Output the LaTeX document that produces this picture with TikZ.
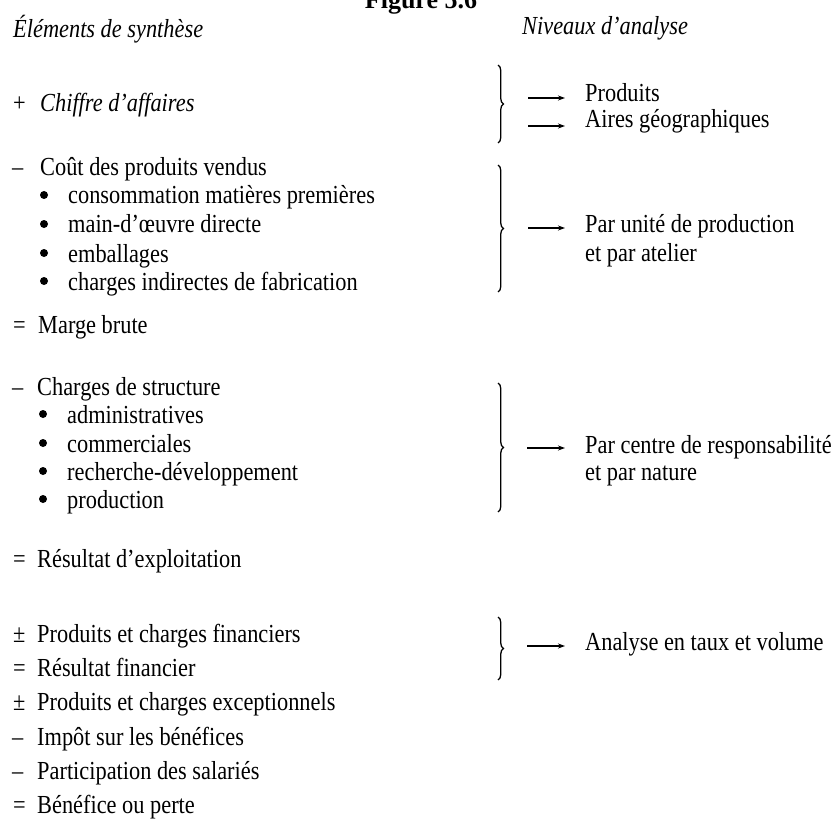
\documentclass[tikz,border=0pt]{standalone}
\usepackage{fontspec}
\setmainfont{Liberation Serif}[FakeStretch=0.86]
\newfontfamily\titlefont{Liberation Serif}
\usetikzlibrary{arrows.meta,decorations.pathreplacing}
\begin{document}
\begin{tikzpicture}[x=1pt,y=-1pt,
  txt/.style={anchor=base west,inner sep=0pt,font=\fontsize{26}{30}\selectfont},
  itxt/.style={anchor=base west,inner sep=0pt,font=\fontsize{26}{30}\selectfont\itshape},
  bul/.style={circle,fill=black,inner sep=0pt,minimum size=8pt},
  brc/.style={decorate,decoration={brace,amplitude=5.5pt},line width=1.3pt},
  arr/.style={-{Stealth[length=7pt,width=5pt]},line width=1.2pt,shorten >=20pt}]
\useasboundingbox (0,0) rectangle (832,821);

% title (cut by the top edge)
\node[anchor=base,inner sep=0pt,font=\titlefont\bfseries\fontsize{26}{30}\selectfont] (title) at (421,9) {Figure 5.6};

% headers
\node[itxt] (h1) at (13,38) {Éléments de synthèse};
\node[itxt] (h2) at (522,35) {Niveaux d’analyse};

% left column
\node[txt] (s1) at (13,112) {+};
\node[itxt] (l1) at (40,112) {Chiffre d’affaires};

\node[txt] (s2) at (12,176) {–};
\node[txt] (l2) at (40,176) {Coût des produits vendus};
\node[bul] (b21) at (44,195) {};
\node[txt] (l21) at (68,204) {consommation matières premières};
\node[bul] (b22) at (44,224) {};
\node[txt] (l22) at (68,233) {main-d’œuvre directe};
\node[bul] (b23) at (44,253) {};
\node[txt] (l23) at (68,262) {emballages};
\node[bul] (b24) at (44,281) {};
\node[txt] (l24) at (68,290) {charges indirectes de fabrication};

\node[txt] (s3) at (13,333) {=};
\node[txt] (l3) at (38,333) {Marge brute};

\node[txt] (s4) at (12,395) {–};
\node[txt] (l4) at (37,395) {Charges de structure};
\node[bul] (b41) at (43,414) {};
\node[txt] (l41) at (67,423) {administratives};
\node[bul] (b42) at (43,443) {};
\node[txt] (l42) at (67,452) {commerciales};
\node[bul] (b43) at (43,471) {};
\node[txt] (l43) at (67,480) {recherche-développement};
\node[bul] (b44) at (43,499) {};
\node[txt] (l44) at (67,508) {production};

\node[txt] (s5) at (13,567) {=};
\node[txt] (l5) at (37,567) {Résultat d’exploitation};

\node[txt] (s6) at (13,642) {±};
\node[txt] (l6) at (37,642) {Produits et charges financiers};
\node[txt] (s7) at (13,676) {=};
\node[txt] (l7) at (37,676) {Résultat financier};
\node[txt] (s8) at (13,710) {±};
\node[txt] (l8) at (37,710) {Produits et charges exceptionnels};
\node[txt] (s9) at (12,745) {–};
\node[txt] (l9) at (37,745) {Impôt sur les bénéfices};
\node[txt] (s10) at (12,779) {–};
\node[txt] (l10) at (37,779) {Participation des salariés};
\node[txt] (s11) at (13,813) {=};
\node[txt] (l11) at (37,813) {Bénéfice ou perte};

% right column
\node[txt] (r1) at (585,102) {Produits};
\node[txt] (r2) at (585,128) {Aires géographiques};
\node[txt] (r3) at (585,233) {Par unité de production};
\node[txt] (r3b) at (585,261) {et par atelier};
\node[txt] (r4) at (585,453) {Par centre de responsabilité};
\node[txt] (r4b) at (585,480) {et par nature};
\node[txt] (r5) at (585,650) {Analyse en taux et volume};

% braces
\draw[brc] (498,65) -- (498,143);
\draw[brc] (498,165) -- (498,292);
\draw[brc] (498,383) -- (498,512);
\draw[brc] (498,617) -- (498,680);

% arrows
\coordinate (a1) at (528,98);
\coordinate (a2) at (528,126);
\coordinate (a3) at (528,228);
\coordinate (a4) at (527,448);
\coordinate (a5) at (527,646);
\draw[arr] (a1) -- (a1 -| r1.west);
\draw[arr] (a2) -- (a2 -| r2.west);
\draw[arr] (a3) -- (a3 -| r3.west);
\draw[arr] (a4) -- (a4 -| r4.west);
\draw[arr] (a5) -- (a5 -| r5.west);
\end{tikzpicture}
\end{document}
